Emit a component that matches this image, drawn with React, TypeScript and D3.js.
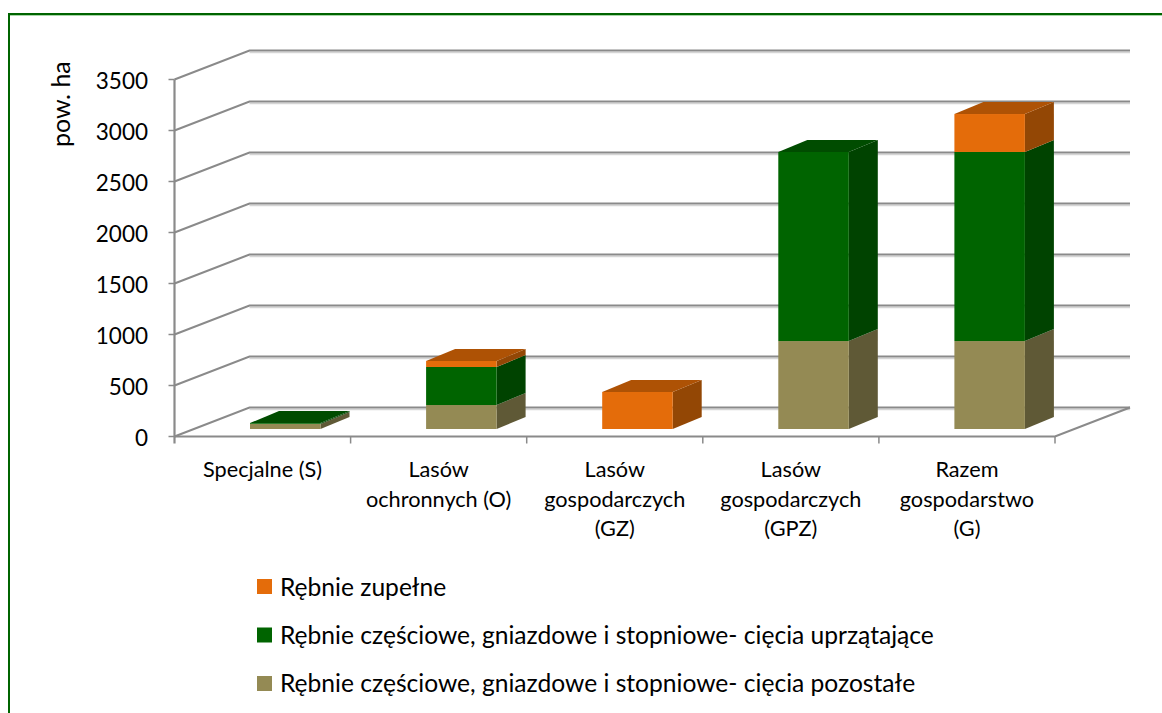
import React from "react";
import * as d3 from "d3";

const categories = [
  ["Specjalne (S)"],
  ["Lasów", "ochronnych (O)"],
  ["Lasów", "gospodarczych", "(GZ)"],
  ["Lasów", "gospodarczych", "(GPZ)"],
  ["Razem", "gospodarstwo", "(G)"],
];
const pozostale = [50, 235, 0, 862, 862];
const uprzatajace = [8, 373, 0, 1854, 1854];
const zupelne = [0, 59, 363, 0, 372];
const yTicks = [0, 500, 1000, 1500, 2000, 2500, 3000, 3500];
const seriesNames = [
  "Rębnie zupełne",
  "Rębnie częściowe, gniazdowe i stopniowe- cięcia uprzątające",
  "Rębnie częściowe, gniazdowe i stopniowe- cięcia pozostałe",
];
const palette = [
  { front: "#E46C0A", top: "#AE5205", side: "#934705" },
  { front: "#006400", top: "#004C00", side: "#004300" },
  { front: "#948A54", top: "#716A40", side: "#5F5936" },
];

const FONT = "Lato, Carlito, sans-serif";
const GRID = "#8A8A8A";
const DX = 75;
const DY = -29;
const BDX = 29;
const BDY = -12;

const x0 = 174.5;
const x1 = 1055;
const yFloor = d3.scaleLinear().domain([0, 3500]).range([436.5, 79.5]);
const yBar = d3.scaleLinear().domain([0, 3500]).range([429, 72]);
const xBand = d3.scaleBand<number>().domain(d3.range(5)).range([x0, x1]).paddingInner(0).paddingOuter(0);
const BAR_W = 70.5;
const BAR_OFFSET = 75.5;

export default function App() {
  const segments = categories.map((_, i) => {
    const layers = [
      { s: 2, v: pozostale[i] },
      { s: 1, v: uprzatajace[i] },
      { s: 0, v: zupelne[i] },
    ];
    let cum = 0;
    return layers
      .filter((l) => l.v > 0)
      .map((l) => {
        const seg = { ...l, lo: cum, hi: cum + l.v };
        cum += l.v;
        return seg;
      });
  });

  return (
    <svg
      width={1162}
      height={713}
      style={{ position: "absolute", left: 0, top: 0, background: "#fff" }}
      fontFamily={FONT}
    >
      <path d="M9 713V14H1162" fill="none" stroke="#006400" strokeWidth={2} />
      <path d="M10 15.5H1162" fill="none" stroke="#A8D5A8" strokeWidth={1} />

      {yTicks.map((t) => (
        <g key={t} stroke={GRID} fill="none">
          <path
            d={`M${x0 + DX} ${yFloor(t) + DY + 1}H${x1 + DX}`}
            stroke="#D5D5D5"
            strokeWidth={1.5}
            transform="translate(0,1)"
          />
          <path d={`M${x0} ${yFloor(t)}L${x0 + DX} ${yFloor(t) + DY}H${x1 + DX}`} strokeWidth={2} />
          <path d={`M${x0 - 6} ${yFloor(t)}H${x0}`} strokeWidth={1.5} />
        </g>
      ))}
      <path d={`M${x0} ${yFloor(3500)}V${yFloor(0) + 7}`} stroke={GRID} strokeWidth={2.2} fill="none" />
      <path
        d={`M${x0} ${yFloor(0)}H${x1}L${x1 + DX} ${yFloor(0) + DY}`}
        stroke={GRID}
        strokeWidth={2.2}
        fill="none"
      />
      {d3.range(1, 6).map((i) => {
        const x = x0 + xBand.step() * i;
        return <path key={i} d={`M${x} ${yFloor(0)}V${yFloor(0) + 7}`} stroke={GRID} strokeWidth={1.5} />;
      })}

      {yTicks.map((t) => (
        <text key={t} x={148} y={yFloor(t) + 9} textAnchor="end" fontSize={22.5} fill="#000">
          {t}
        </text>
      ))}
      <text transform="translate(70,147) rotate(-90)" fontSize={25} fill="#000">
        pow. ha
      </text>

      {segments.map((segs, i) => {
        const bx = xBand(i)! + BAR_OFFSET;
        const last = segs[segs.length - 1];
        return (
          <g key={i}>
            {segs.map((g) => {
              const c = palette[g.s];
              const yt = yBar(g.hi);
              const yb = yBar(g.lo);
              return (
                <g key={g.s}>
                  <path
                    d={`M${bx + BAR_W} ${yt}L${bx + BAR_W + BDX} ${yt + BDY}V${yb + BDY}L${bx + BAR_W} ${yb}Z`}
                    fill={c.side}
                  />
                  <rect x={bx} y={yt} width={BAR_W} height={yb - yt} fill={c.front} />
                </g>
              );
            })}
            <path
              d={`M${bx} ${yBar(last.hi)}L${bx + BDX} ${yBar(last.hi) + BDY}H${bx + BAR_W + BDX}L${bx + BAR_W} ${yBar(last.hi)}Z`}
              fill={palette[last.s].top}
            />
          </g>
        );
      })}

      {categories.map((lines, i) => (
        <text key={i} textAnchor="middle" fontSize={21.7} fill="#000">
          {lines.map((l, j) => (
            <tspan key={j} x={xBand(i)! + xBand.step() / 2} y={477 + j * 29.5}>
              {l}
            </tspan>
          ))}
        </text>
      ))}

      {seriesNames.map((n, i) => (
        <g key={n}>
          <rect x={257} y={579 + i * 48.5} width={15} height={15} fill={palette[i].front} />
          <text x={280} y={596 + i * 48.2} fontSize={24.6} fill="#000">
            {n}
          </text>
        </g>
      ))}
    </svg>
  );
}
